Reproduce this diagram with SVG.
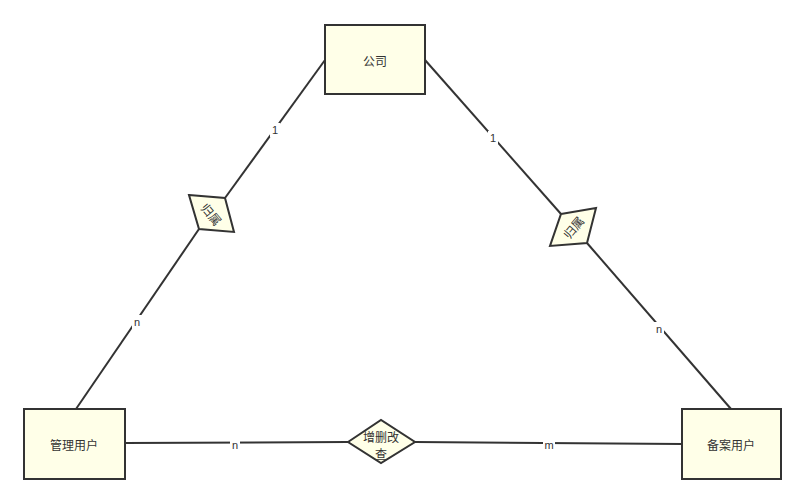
<svg xmlns="http://www.w3.org/2000/svg" width="807" height="504" viewBox="0 0 807 504">
<style>
.ent{fill:#ffffe8;stroke:#333;stroke-width:2}
.rel{fill:#ffffe8;stroke:#333;stroke-width:2}
.t{font-family:"Noto Sans CJK SC","Liberation Sans",sans-serif;font-size:12px;fill:#333;text-anchor:middle;dominant-baseline:central}
.c{stroke:#333;stroke-width:2;fill:none}
.lb{fill:#fff}
.l{font-family:"Liberation Sans",sans-serif;font-size:11px;fill:#333;text-anchor:middle;dominant-baseline:central}
</style>
<rect width="807" height="504" fill="#fff"/>
<g id="connectors">
<line class="c" x1="325" y1="60" x2="225" y2="198"/>
<line class="c" x1="199" y1="229" x2="76" y2="409"/>
<line class="c" x1="425" y1="60" x2="561" y2="214"/>
<line class="c" x1="587" y1="243" x2="731" y2="409"/>
<line class="c" x1="125" y1="443" x2="348" y2="442"/>
<line class="c" x1="415" y1="442" x2="682" y2="444"/>
<rect class="lb" x="270" y="123" width="10" height="14"/>
<text class="l" x="275" y="130">1</text>
<rect class="lb" x="488" y="131" width="10" height="14"/>
<text class="l" x="493" y="138">1</text>
<rect class="lb" x="132" y="315" width="10" height="14"/>
<text class="l" x="137" y="322">n</text>
<rect class="lb" x="654" y="322" width="10" height="14"/>
<text class="l" x="659" y="329">n</text>
<rect class="lb" x="230" y="438" width="10" height="14"/>
<text class="l" x="235" y="445">n</text>
<rect class="lb" x="543" y="438" width="12" height="14"/>
<text class="l" x="549" y="445">m</text>
</g>
<g id="company">
<rect class="ent" x="325" y="25" width="100" height="69"/>
<text class="t" x="375" y="60">公司</text>
</g>
<g id="admin">
<rect class="ent" x="24" y="409" width="101" height="70"/>
<text class="t" x="74" y="444">管理用户</text>
</g>
<g id="filer">
<rect class="ent" x="682" y="409" width="99" height="70"/>
<text class="t" x="731" y="444">备案用户</text>
</g>
<g id="rel-left">
<polygon class="rel" points="189,195 225,198 234,232 199,229"/>
<text class="t" x="212" y="214" transform="rotate(50 212 214)">归属</text>
</g>
<g id="rel-right">
<polygon class="rel" points="561,214 596,208 587,243 550,246"/>
<text class="t" x="573" y="227" transform="rotate(-50 573 227)">归属</text>
</g>
<g id="rel-bottom">
<polygon class="rel" points="348,442 381,420 415,442 381,463"/>
<text class="t" x="381" y="436">增删改</text>
<text class="t" x="381" y="453">查</text>
</g>
</svg>
